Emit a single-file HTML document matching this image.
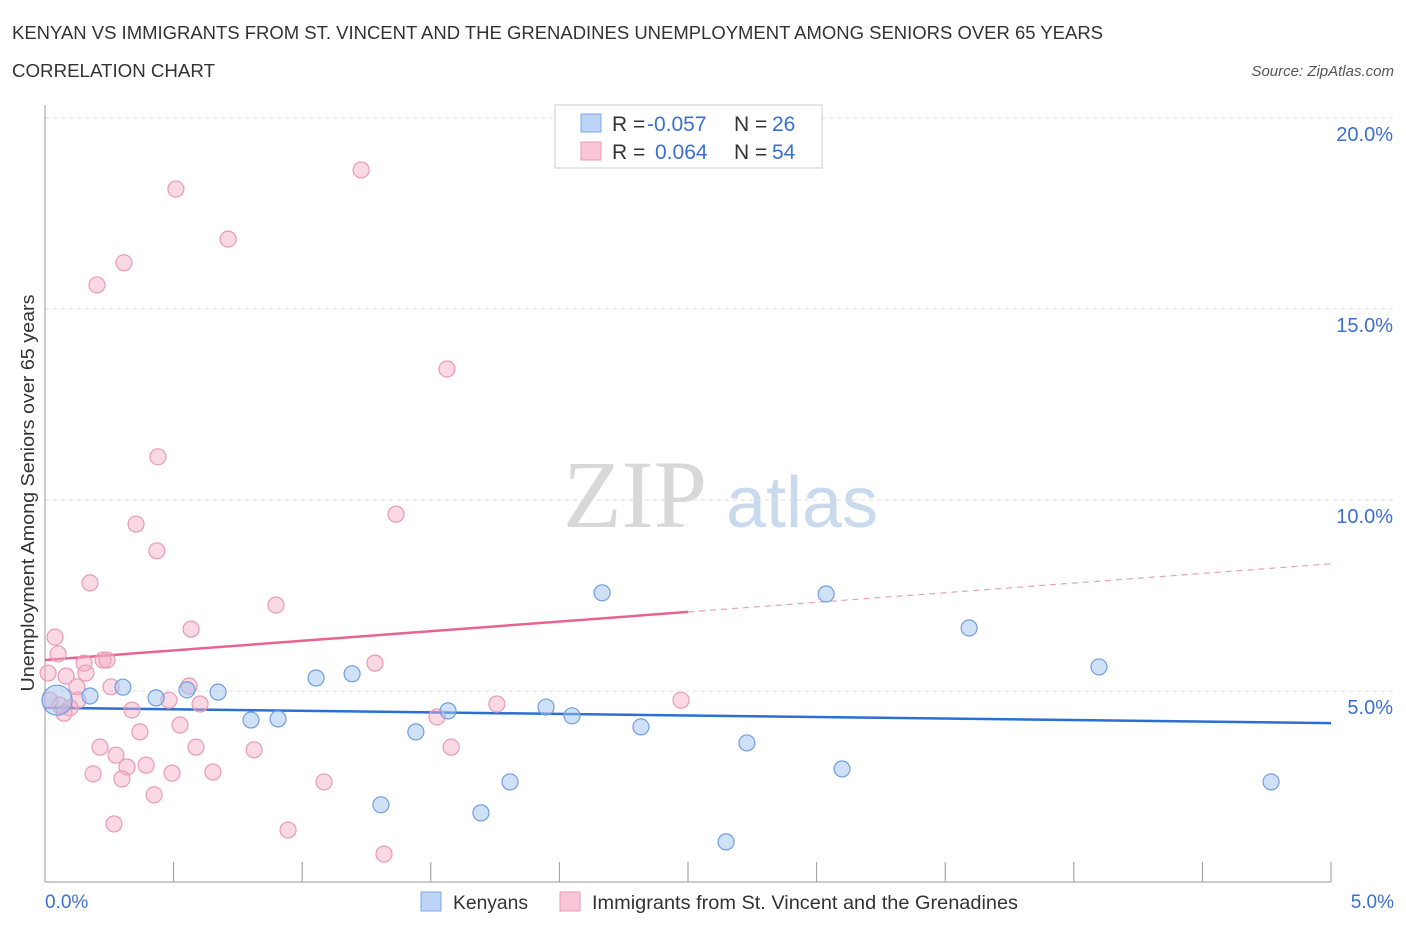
<!DOCTYPE html>
<html><head><meta charset="utf-8"><style>
body{margin:0;background:#fff;font-family:"Liberation Sans",sans-serif;}
svg text{font-family:"Liberation Sans",sans-serif;}
</style></head><body>
<svg id="chart" width="1406" height="930" viewBox="0 0 1406 930" xmlns="http://www.w3.org/2000/svg">
<text x="12" y="39" font-size="18" fill="#333" textLength="1091" lengthAdjust="spacingAndGlyphs">KENYAN VS IMMIGRANTS FROM ST. VINCENT AND THE GRENADINES UNEMPLOYMENT AMONG SENIORS OVER 65 YEARS</text>
<text x="12" y="77" font-size="18" fill="#333" textLength="203" lengthAdjust="spacingAndGlyphs">CORRELATION CHART</text>
<text x="1394" y="76" font-size="15" fill="#555" font-style="italic" text-anchor="end">Source: ZipAtlas.com</text>
<g>
<text x="635" y="527" font-size="96" fill="#d8d8d8" style="font-family:'Liberation Serif',serif" text-anchor="middle">ZIP</text>
<text x="802" y="527" font-size="72" fill="#c9d9ee" text-anchor="middle">atlas</text>
</g>
<g id="grid"></g>
<g id="axes"></g>
<g id="trends"></g>
<g id="points"></g>
<text transform="translate(34,493) rotate(-90)" font-size="18" fill="#333" text-anchor="middle" textLength="397" lengthAdjust="spacingAndGlyphs">Unemployment Among Seniors over 65 years</text>
<text x="45" y="908" font-size="19" fill="#3b6fd1">0.0%</text>
<text x="1394" y="908" font-size="19" fill="#3b6fd1" text-anchor="end">5.0%</text>
<g>
<rect x="555" y="105" width="267" height="63" fill="#fff" stroke="#ccc"/>
<rect x="581" y="114" width="20" height="18" fill="#bcd4f5" stroke="#7fa8e6"/>
<rect x="581" y="142" width="20" height="18" fill="#f8c6d6" stroke="#eb9ab5"/>
<text x="612" y="131" font-size="21" fill="#333">R = <tspan fill="#3b6fd1" x="647">-0.057</tspan><tspan x="734">N = </tspan><tspan fill="#3b6fd1" x="772">26</tspan></text>
<text x="612" y="159" font-size="21" fill="#333">R = <tspan fill="#3b6fd1" x="655">0.064</tspan><tspan x="734">N = </tspan><tspan fill="#3b6fd1" x="772">54</tspan></text>
</g>
<g>
<rect x="421" y="892" width="20" height="19" fill="#bcd4f5" stroke="#7fa8e6"/>
<text x="453" y="909" font-size="19.5" fill="#333" textLength="75" lengthAdjust="spacingAndGlyphs">Kenyans</text>
<rect x="560" y="892" width="20" height="19" fill="#f8c6d6" stroke="#eb9ab5"/>
<text x="592" y="909" font-size="19.5" fill="#333" textLength="426" lengthAdjust="spacingAndGlyphs">Immigrants from St. Vincent and the Grenadines</text>
</g>
</svg>
<script>
const yTicks=[5,10,15,20];
const xTicks=[0,0.5,1,1.5,2,2.5,3,3.5,4,4.5,5];
const blueX=[0.047,0.175,0.303,0.432,0.552,0.673,0.801,0.906,1.054,1.194,1.306,1.442,1.567,1.695,1.808,1.948,2.049,2.166,2.317,2.648,2.729,3.037,3.099,3.593,4.098,4.767];
const blueY=[4.76,4.87,5.10,4.82,5.03,4.97,4.24,4.27,5.34,5.45,2.02,3.93,4.48,1.81,2.62,4.58,4.35,7.57,4.06,1.05,3.64,7.54,2.96,6.65,5.63,2.62];
const pinkX=[0.509,1.229,0.712,0.307,0.202,1.563,0.439,0.354,1.365,0.435,0.175,0.898,0.568,0.039,0.051,1.283,0.152,0.226,0.241,0.159,0.082,0.012,0.124,0.257,0.560,0.482,0.603,1.757,2.473,0.128,0.058,0.097,0.074,0.338,1.524,0.525,0.369,0.214,0.587,0.276,0.813,1.579,0.393,0.319,0.187,0.299,0.494,0.653,1.085,0.424,0.268,0.945,1.318,0.019];
const pinkY=[18.14,18.64,16.83,16.21,15.63,13.43,11.13,9.37,9.63,8.67,7.83,7.25,6.62,6.41,5.97,5.73,5.73,5.81,5.81,5.47,5.39,5.47,5.11,5.11,5.13,4.76,4.66,4.66,4.76,4.76,4.63,4.56,4.42,4.50,4.32,4.11,3.93,3.53,3.53,3.32,3.46,3.53,3.06,3.01,2.83,2.70,2.85,2.88,2.62,2.28,1.52,1.36,0.73,4.76];
const blueTrend=[4.56,4.16];
const pinkTrend=[5.81,7.07,8.33];
const X0=45,X1=1331,Y0=882,YPER=191/5;
const sx=v=>X0+(X1-X0)*v/5, sy=v=>Y0-v*YPER;
const NS="http://www.w3.org/2000/svg";
function mk(t,a,p){const e=document.createElementNS(NS,t);for(const k in a)e.setAttribute(k,a[k]);p.appendChild(e);return e;}
const grid=document.getElementById('grid'),axes=document.getElementById('axes'),tr=document.getElementById('trends'),pts=document.getElementById('points');
yTicks.forEach(v=>{
 const l=mk('line',{x1:X0,x2:1394,y1:sy(v),y2:sy(v),stroke:'#ddd','stroke-dasharray':'4,4'},grid);
 
 
 const t=mk('text',{x:1393,y:sy(v)+23,'font-size':20,fill:'#3b6fd1','text-anchor':'end'},grid);
 t.textContent=v.toFixed(1)+'%';
 
 
});
const ax=mk('line',{x1:X0,x2:X0,y1:105,y2:Y0,stroke:'#999'},axes);


const bx=mk('line',{x1:X0,x2:X1,y1:Y0,y2:Y0,stroke:'#999'},axes);


xTicks.forEach(v=>{
 const t=mk('line',{x1:sx(v),x2:sx(v),y1:862,y2:Y0,stroke:'#999'},axes);
 
 
});
const bt=mk('line',{x1:sx(0),y1:sy(blueTrend[0]),x2:sx(5),y2:sy(blueTrend[1]),stroke:'#2a6fd4','stroke-width':2.5},tr);


const pt=mk('line',{x1:sx(0),y1:sy(pinkTrend[0]),x2:sx(2.5),y2:sy(pinkTrend[1]),stroke:'#e8648f','stroke-width':2.5},tr);


const pd=mk('line',{x1:sx(2.5),y1:sy(pinkTrend[1]),x2:sx(5),y2:sy(pinkTrend[2]),stroke:'#e8a0b8','stroke-width':1.2,'stroke-dasharray':'6,5'},tr);


pinkX.forEach((x,i)=>{
 const c=mk('circle',{cx:sx(x),cy:sy(pinkY[i]),r:8,fill:'rgba(244,170,195,0.45)',stroke:'#e99ab4','stroke-width':1.2},pts);
 
 
});
blueX.forEach((x,i)=>{
 const c=mk('circle',{cx:sx(x),cy:sy(blueY[i]),r:i===0?15:8,fill:'rgba(160,195,240,0.5)',stroke:'#6f9de0','stroke-width':1.2},pts);
 
 
});
</script>
</body></html>
